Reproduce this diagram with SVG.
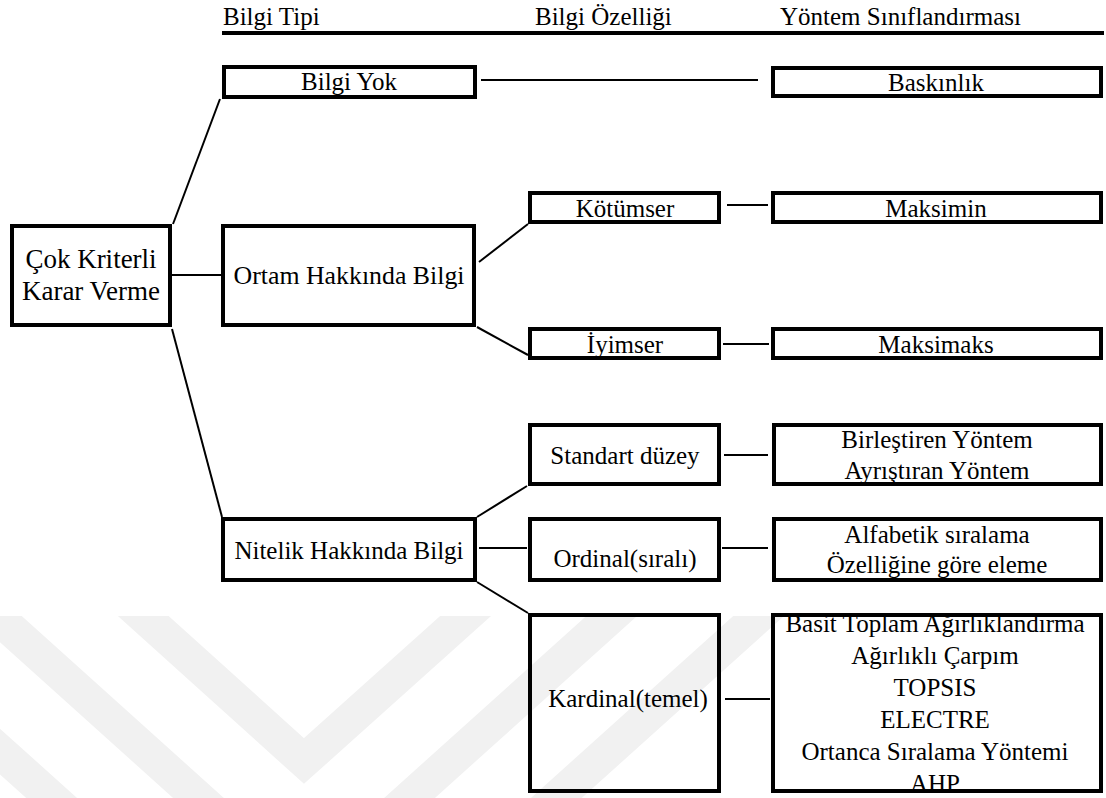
<svg xmlns="http://www.w3.org/2000/svg" width="1106" height="798" viewBox="0 0 1106 798">
  <defs>
    <style>
      .box { fill: none; stroke: #000; stroke-width: 4; }
      .conn { fill: none; stroke: #000; stroke-width: 2; }
      .t { font-family: "Liberation Serif", "Times New Roman", serif; font-size: 25px; fill: #000; text-anchor: middle; }
      .h { font-family: "Liberation Serif", "Times New Roman", serif; font-size: 25px; fill: #000; }
      .wm { fill: none; stroke: #f1f1f1; stroke-width: 34; stroke-linejoin: miter; }
    </style>
    <clipPath id="wmClip">
      <rect x="0" y="616" width="1106" height="182"/>
    </clipPath>
  </defs>
  <rect width="1106" height="798" fill="#fff"/>

  <!-- faint background chevrons -->
  <g id="watermark" clip-path="url(#wmClip)">
    <polyline class="wm" points="110,586 304,761 499,586"/>
    <polyline class="wm" points="-37,586 304,893 645,586"/>
    <polyline class="wm" points="-184,586 304,1025 792,586"/>
  </g>

  <!-- column headings -->
  <g id="headings">
    <text class="h" x="223" y="25">Bilgi Tipi</text>
    <text class="h" x="535" y="25">Bilgi Özelliği</text>
    <text class="h" x="780" y="25">Yöntem Sınıflandırması</text>
    <line x1="222" y1="33" x2="1104" y2="33" stroke="#000" stroke-width="4"/>
  </g>

  <!-- connectors -->
  <g id="connectors">
    <line class="conn" x1="173" y1="224" x2="220" y2="99"/>
    <line class="conn" x1="172" y1="275" x2="221" y2="275"/>
    <line class="conn" x1="172" y1="329" x2="222" y2="517"/>
    <line class="conn" x1="481" y1="80" x2="758" y2="80"/>
    <line class="conn" x1="479" y1="262" x2="528" y2="224"/>
    <line class="conn" x1="477" y1="327" x2="528" y2="355"/>
    <line class="conn" x1="727" y1="205" x2="768" y2="205"/>
    <line class="conn" x1="723" y1="344" x2="769" y2="344"/>
    <line class="conn" x1="477" y1="517" x2="527" y2="486"/>
    <line class="conn" x1="479" y1="548" x2="527" y2="548"/>
    <line class="conn" x1="477" y1="582" x2="528" y2="613"/>
    <line class="conn" x1="724" y1="455" x2="768" y2="455"/>
    <line class="conn" x1="722" y1="548" x2="768" y2="548"/>
    <line class="conn" x1="725" y1="699" x2="770" y2="699"/>
  </g>

  <g id="root">
    <rect class="box" x="12" y="226" width="158" height="99"/>
    <text class="t" x="91" y="268" style="font-size:27px">Çok Kriterli</text>
    <text class="t" x="91" y="300" style="font-size:27px">Karar Verme</text>
  </g>

  <g id="bilgi-yok">
    <rect class="box" x="224" y="67" width="251" height="30"/>
    <text class="t" x="349" y="90">Bilgi Yok</text>
  </g>
  <g id="ortam">
    <rect class="box" x="223" y="226" width="251" height="99"/>
    <text class="t" x="349" y="284" textLength="231" lengthAdjust="spacingAndGlyphs">Ortam Hakkında Bilgi</text>
  </g>
  <g id="nitelik">
    <rect class="box" x="223" y="519" width="252" height="61"/>
    <text class="t" x="349" y="559">Nitelik Hakkında Bilgi</text>
  </g>

  <g id="kotumser">
    <rect class="box" x="530" y="193" width="189" height="29"/>
    <text class="t" x="625" y="217">Kötümser</text>
  </g>
  <g id="iyimser">
    <rect class="box" x="530" y="329" width="189" height="29"/>
    <text class="t" x="625" y="353">İyimser</text>
  </g>
  <g id="standart">
    <rect class="box" x="530" y="425" width="189" height="59"/>
    <text class="t" x="625" y="464">Standart düzey</text>
  </g>
  <g id="ordinal">
    <rect class="box" x="530" y="519" width="189" height="61"/>
    <text class="t" x="625" y="567">Ordinal(sıralı)</text>
  </g>
  <g id="kardinal">
    <rect class="box" x="530" y="615" width="189" height="176"/>
    <text class="t" x="628" y="707">Kardinal(temel)</text>
  </g>

  <g id="baskinlik">
    <rect class="box" x="773" y="68" width="328" height="28"/>
    <text class="t" x="936" y="91">Baskınlık</text>
  </g>
  <g id="maksimin">
    <rect class="box" x="773" y="193" width="328" height="29"/>
    <text class="t" x="936" y="217">Maksimin</text>
  </g>
  <g id="maksimaks">
    <rect class="box" x="773" y="329" width="328" height="29"/>
    <text class="t" x="936" y="353">Maksimaks</text>
  </g>
  <g id="standart-yontem">
    <rect class="box" x="774" y="425" width="327" height="59"/>
    <text class="t" x="937" y="448">Birleştiren Yöntem</text>
    <text class="t" x="937" y="479">Ayrıştıran Yöntem</text>
  </g>
  <g id="ordinal-yontem">
    <rect class="box" x="774" y="519" width="327" height="61"/>
    <text class="t" x="937" y="543">Alfabetik sıralama</text>
    <text class="t" x="937" y="573">Özelliğine göre eleme</text>
  </g>
  <g id="kardinal-yontem">
    <rect class="box" x="773" y="615" width="328" height="176"/>
    <text class="t" x="935" y="632">Basit Toplam Ağırlıklandırma</text>
    <text class="t" x="935" y="664">Ağırlıklı Çarpım</text>
    <text class="t" x="935" y="696">TOPSIS</text>
    <text class="t" x="935" y="728">ELECTRE</text>
    <text class="t" x="935" y="760">Ortanca Sıralama Yöntemi</text>
    <text class="t" x="935" y="792">AHP</text>
  </g>
</svg>
